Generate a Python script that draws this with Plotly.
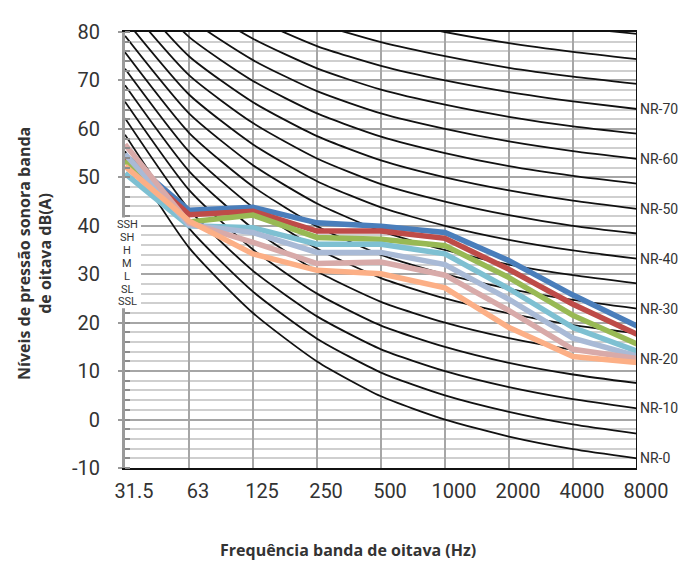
import plotly.graph_objects as go

# ---------------- data ----------------
freq_labels = ["31.5", "63", "125", "250", "500", "1000", "2000", "4000", "8000"]
x_pos = list(range(len(freq_labels)))

# NR reference curves (dB per octave band)
nr_levels = [0, 5, 10, 15, 20, 25, 30, 35, 40, 45, 50, 55, 60, 65, 70, 75, 80, 85]
nr_0 = [55.4, 35.5, 22.0, 12.0, 4.8, 0.0, -3.5, -6.1, -8.0]
nr_5 = [58.8, 39.5, 26.4, 16.7, 9.7, 5.0, 1.6, -1.0, -2.9]
nr_10 = [62.2, 43.4, 30.7, 21.3, 14.5, 10.0, 6.7, 4.2, 2.3]
nr_15 = [65.6, 47.4, 35.1, 26.0, 19.4, 15.0, 11.7, 9.3, 7.5]
nr_20 = [69.0, 51.3, 39.4, 30.6, 24.3, 20.0, 16.8, 14.4, 12.6]
nr_25 = [72.4, 55.3, 43.8, 35.3, 29.2, 25.0, 21.9, 19.5, 17.8]
nr_30 = [75.8, 59.2, 48.1, 39.9, 34.0, 30.0, 27.0, 24.7, 22.9]
nr_35 = [79.2, 63.2, 52.5, 44.6, 38.9, 35.0, 32.0, 29.8, 28.1]
nr_40 = [82.6, 67.1, 56.8, 49.2, 43.8, 40.0, 37.1, 34.9, 33.2]
nr_45 = [86.0, 71.1, 61.2, 53.9, 48.6, 45.0, 42.2, 40.0, 38.4]
nr_50 = [89.5, 75.0, 65.5, 58.5, 53.5, 50.0, 47.3, 45.2, 43.5]
nr_55 = [92.9, 79.0, 69.9, 63.2, 58.4, 55.0, 52.3, 50.3, 48.7]
nr_60 = [96.3, 82.9, 74.2, 67.8, 63.2, 60.0, 57.4, 55.4, 53.8]
nr_65 = [99.7, 86.9, 78.6, 72.5, 68.1, 65.0, 62.5, 60.5, 59.0]
nr_70 = [103.1, 90.8, 82.9, 77.1, 73.0, 70.0, 67.6, 65.7, 64.1]
nr_75 = [106.5, 94.8, 87.3, 81.8, 77.9, 75.0, 72.6, 70.8, 69.3]
nr_80 = [109.9, 98.7, 91.6, 86.4, 82.7, 80.0, 77.7, 75.9, 74.4]
nr_85 = [113.3, 102.7, 96.0, 91.1, 87.6, 85.0, 82.8, 81.0, 79.6]
nr_curves = [nr_0, nr_5, nr_10, nr_15, nr_20, nr_25, nr_30, nr_35, nr_40,
             nr_45, nr_50, nr_55, nr_60, nr_65, nr_70, nr_75, nr_80, nr_85]
nr_labelled = [0, 10, 20, 30, 40, 50, 60, 70]

# fan-speed series (dB(A) per octave band)
series_names = ["SSH", "SH", "H", "M", "L", "SL", "SSL"]
ssh = [54.5, 43.2, 43.8, 40.6, 39.9, 38.6, 32.8, 25.7, 19.3]
sh = [54.0, 42.3, 43.0, 38.9, 38.9, 37.4, 31.0, 23.8, 17.6]
h = [53.5, 40.8, 42.2, 37.6, 37.2, 35.9, 29.3, 21.5, 15.6]
m = [50.8, 40.0, 39.6, 36.2, 36.2, 34.2, 27.0, 19.0, 14.1]
l = [54.8, 40.2, 38.6, 34.5, 34.5, 32.0, 24.8, 16.8, 13.1]
sl = [56.8, 40.6, 36.6, 32.2, 32.5, 29.8, 22.5, 14.5, 12.6]
ssl = [52.3, 41.0, 34.2, 30.8, 30.1, 27.2, 19.0, 13.0, 11.8]
series_values = [ssh, sh, h, m, l, sl, ssl]
series_colors = ["#4a7ebb", "#be4b48", "#98b954", "#7ec0d2", "#a9bad6", "#d8aaa9", "#fcaf86"]
label_y = [40.3, 37.6, 34.9, 32.2, 29.6, 26.9, 24.3]

y_ticks = [-10, 0, 10, 20, 30, 40, 50, 60, 70, 80]
y_tick_text = ["-10", "0", "10", "20", "30", "40", "50", "60", "70", "80"]

# ---------------- figure ----------------
fig = go.Figure()

for lvl, vals in zip(nr_levels, nr_curves):
    fig.add_trace(go.Scatter(
        x=x_pos, y=vals, mode="lines",
        line=dict(color="#111111", width=1.8, shape="spline", smoothing=0.6),
        showlegend=False, hoverinfo="skip"))

for name, vals, col in zip(series_names, series_values, series_colors):
    fig.add_trace(go.Scatter(
        x=x_pos, y=vals, mode="lines", name=name,
        line=dict(color=col, width=5.5),
        showlegend=False))

# page body has an 8px margin: figure coords = page coords - 8
W, H = 688, 556
L, T = 117, 16
PW, PH = 512, 444

# right border
fig.add_shape(type="line", xref="x", yref="paper", x0=8, x1=8, y0=0, y1=1,
              line=dict(color="#111111", width=2), layer="above")
# white box behind the speed labels (covers axis and grid like the original)
fig.add_shape(type="rect", xref="paper", yref="paper",
              x0=-10 / PW, x1=16 / PW, y0=(23.0 + 10) / 90, y1=(41.7 + 10) / 90,
              fillcolor="white", line=dict(width=0), layer="above")

annotations = []
for lvl, vals in zip(nr_levels, nr_curves):
    if lvl in nr_labelled:
        annotations.append(dict(
            x=8, y=vals[-1], xref="x", yref="y", text=f"NR-{lvl}",
            showarrow=False, xanchor="left", yanchor="middle", xshift=1,
            font=dict(family="Roboto", size=14, color="#333333")))

for name, yv in zip(series_names, label_y):
    annotations.append(dict(
        x=0, y=yv, xref="x", yref="y", text=name, showarrow=False,
        xanchor="center", yanchor="middle", xshift=2,
        font=dict(family="Liberation Sans Narrow, Roboto", size=11, color="#333333")))

annotations.append(dict(
    x=(348 - 8 - L) / PW, y=(T + PH - (551 - 8)) / PH, xref="paper", yref="paper",
    text="<b>Frequência banda de oitava (Hz)</b>", showarrow=False,
    xanchor="center", yanchor="middle",
    font=dict(family="Open Sans", size=16, color="#333333")))

annotations.append(dict(
    x=(35 - 8 - L) / PW, y=(T + PH - (250 - 8)) / PH, xref="paper", yref="paper",
    text="<b>Níveis de pressão sonora banda<br>de oitava dB(A)</b>",
    showarrow=False, textangle=-90, xanchor="center", yanchor="middle",
    font=dict(family="Open Sans", size=16, color="#333333")))

fig.update_layout(
    width=W, height=H, autosize=False,
    margin=dict(l=L, r=W - L - PW, t=T, b=H - T - PH),
    paper_bgcolor="white", plot_bgcolor="white",
    annotations=annotations,
    xaxis=dict(
        range=[0, 8], tickmode="array", tickvals=x_pos, ticktext=freq_labels,
        showgrid=True, gridcolor="#a6a6a6", gridwidth=2,
        showline=True, linecolor="#111111", linewidth=2, mirror=True,
        ticks="", ticklabelstandoff=4, ticklabelshift=9,
        tickfont=dict(family="Roboto", size=20, color="#333333"),
        zeroline=False, fixedrange=True),
    yaxis=dict(
        range=[-10, 80], tickmode="array", tickvals=y_ticks, ticktext=y_tick_text,
        showgrid=True, gridcolor="#a6a6a6", gridwidth=2,
        minor=dict(dtick=2, tick0=0, showgrid=True, gridcolor="#cfcfcf", gridwidth=2,
                   ticks="inside", ticklen=5, tickcolor="#8c8c8c", tickwidth=2),
        showline=True, linecolor="#9a9a9a", linewidth=3,
        ticks="outside", ticklen=4, tickcolor="#9a9a9a", tickwidth=2,
        ticklabelstandoff=14,
        tickfont=dict(family="Roboto", size=20, color="#333333"),
        zeroline=False, fixedrange=True),
)

fig.write_html("out.html")
